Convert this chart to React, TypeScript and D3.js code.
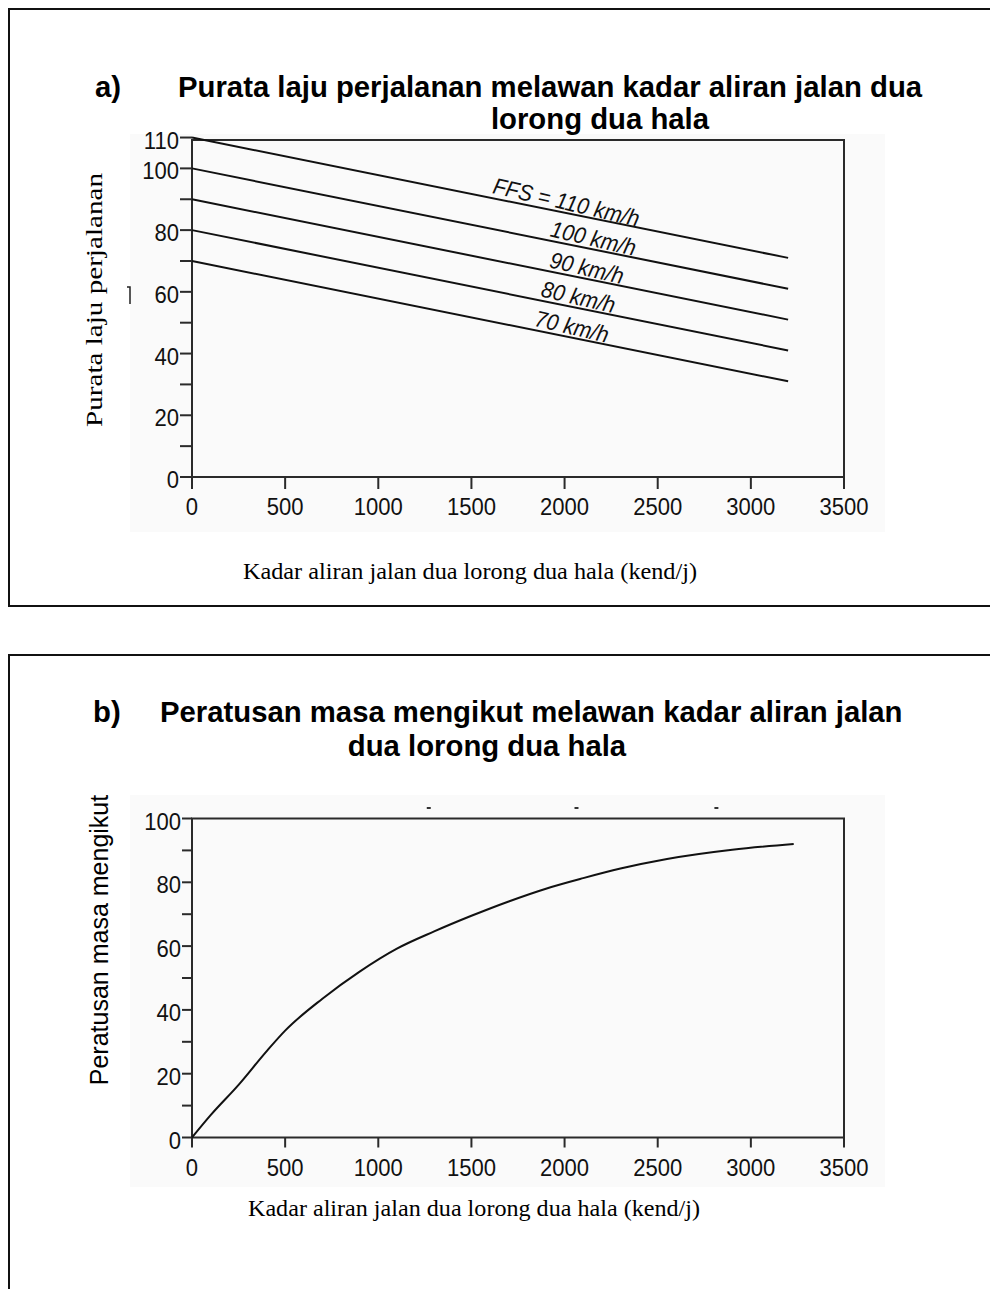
import * as d3 from "d3";
import React from "react";

// values
const flowTicks = [0, 500, 1000, 1500, 2000, 2500, 3000, 3500];

const ffsValues = [110, 100, 90, 80, 70];
const ffsEndSpeeds = [71, 61, 51, 41, 31];
const ffsLabels = ["FFS = 110 km/h", "100 km/h", "90 km/h", "80 km/h", "70 km/h"];
const ffsLabelFlow = [2000, 2145, 2110, 2065, 2030];
const ffsFlowEnd = 3200;

const speedTicks = [0, 10, 20, 30, 40, 50, 60, 70, 80, 90, 100, 110];
const speedLabels = [0, 20, 40, 60, 80, 100, 110];

const followFlow = [0, 100, 250, 400, 500, 700, 900, 1100, 1300, 1500, 1700, 1900, 2100, 2300, 2550, 2900, 3230];
const followPct = [0, 7, 16.5, 27, 33.5, 43.5, 52, 59.2, 64.6, 69.5, 74, 78, 81.3, 84.3, 87.3, 90.2, 92];

const pctTicks = [0, 10, 20, 30, 40, 50, 60, 70, 80, 90, 100];
const pctLabels = [0, 20, 40, 60, 80, 100];

// leftover specks above plot b in the scan
const speckFlow = [1271, 2064, 2815];

const sans = "'Liberation Sans', Arial, sans-serif";
const serif = "'Liberation Serif', 'Times New Roman', serif";
const axisColor = "#2a2a2a";
const titleSize = 29.3;

const Frame = ({ x, y, yTicks, yLabels, tickLen }) => {
  const [x0, x1] = x.range();
  const [y0, y1] = y.range();
  return (
    <g>
      <rect x={x0} y={y1} width={x1 - x0} height={y0 - y1} fill="none" stroke={axisColor} strokeWidth={2} />
      {yTicks.map((t) => (
        <line key={"yt" + t} x1={x0 - tickLen} x2={x0} y1={y(t)} y2={y(t)} stroke={axisColor} strokeWidth={2} />
      ))}
      {yLabels.map((t) => (
        <text
          key={"yl" + t}
          transform={`translate(${x0 - tickLen - 1},${y(t) + 11}) scale(0.92,1)`}
          textAnchor="end"
          fontFamily={sans}
          fontSize={24}
          fill="#111"
        >
          {t}
        </text>
      ))}
      {flowTicks.map((t) => (
        <line key={"xt" + t} x1={x(t)} x2={x(t)} y1={y0} y2={y0 + tickLen} stroke={axisColor} strokeWidth={2} />
      ))}
      {flowTicks.map((t) => (
        <text
          key={"xl" + t}
          transform={`translate(${x(t)},${y0 + 38}) scale(0.92,1)`}
          textAnchor="middle"
          fontFamily={sans}
          fontSize={24}
          fill="#111"
        >
          {t}
        </text>
      ))}
    </g>
  );
};

export default function App() {
  const width = 990;
  const height = 1289;

  // panel a
  const xa = d3.scaleLinear().domain([0, 3500]).range([192, 844]);
  const ya = d3.scaleLinear().domain([0, 109.2]).range([477, 140]);

  // panel b
  const xb = d3.scaleLinear().domain([0, 3500]).range([192, 844]);
  const yb = d3.scaleLinear().domain([0, 100]).range([1137.5, 818.5]);

  const followLine = d3
    .line<number>()
    .x((d, i) => xb(followFlow[i]))
    .y((d) => yb(d))
    .curve(d3.curveMonotoneX);

  return (
    <svg width={width} height={height} style={{ position: "absolute", left: 0, top: 0, display: "block" }}>
      <rect width={width} height={height} fill="#fff" />

      {/* ---------- panel a ---------- */}
      <rect x={130} y={134} width={755} height={398} fill="#fafafa" />
      <rect x={9} y={9} width={1000} height={597} fill="none" stroke="#111" strokeWidth={2} />
      <text x={95} y={97} fontFamily={sans} fontWeight="bold" fontSize={titleSize} fill="#000">a)</text>
      <text x={178} y={97} fontFamily={sans} fontWeight="bold" fontSize={titleSize} fill="#000">
        Purata laju perjalanan melawan kadar aliran jalan dua
      </text>
      <text x={600} y={129} textAnchor="middle" fontFamily={sans} fontWeight="bold" fontSize={titleSize} fill="#000">
        lorong dua hala
      </text>

      <Frame x={xa} y={ya} yTicks={speedTicks} yLabels={speedLabels} tickLen={12} />

      {ffsValues.map((v, i) => (
        <line
          key={"ffs" + v}
          x1={xa(0)}
          y1={ya(v)}
          x2={xa(ffsFlowEnd)}
          y2={ya(ffsEndSpeeds[i])}
          stroke="#111"
          strokeWidth={2}
        />
      ))}
      {ffsValues.map((v, i) => {
        const f = ffsLabelFlow[i];
        const s = v + (ffsEndSpeeds[i] - v) * (f / ffsFlowEnd);
        return (
          <text
            key={"ffsl" + v}
            transform={`translate(${xa(f)},${ya(s) - 3}) rotate(13) scale(0.92,1)`}
            textAnchor="middle"
            fontFamily={sans}
            fontStyle="italic"
            fontSize={23}
            fill="#111"
          >
            {ffsLabels[i]}
          </text>
        );
      })}

      {/* scan fragment left of the axis */}
      <path d="M127,287 L130,287 L130,304" fill="none" stroke="#222" strokeWidth={1.5} />

      <text
        transform="translate(102,300) rotate(-90)"
        textAnchor="middle"
        fontFamily={serif}
        fontSize={23}
        textLength={254}
        lengthAdjust="spacingAndGlyphs"
        fill="#000"
      >
        Purata laju perjalanan
      </text>
      <text
        x={470}
        y={579}
        textAnchor="middle"
        fontFamily={serif}
        fontSize={24}
        textLength={454}
        lengthAdjust="spacingAndGlyphs"
        fill="#000"
      >
        Kadar aliran jalan dua lorong dua hala (kend/j)
      </text>

      {/* ---------- panel b ---------- */}
      <rect x={130} y={795} width={755} height={392} fill="#fafafa" />
      <rect x={9} y={655} width={1000} height={700} fill="none" stroke="#111" strokeWidth={2} />
      <text x={93} y={722} fontFamily={sans} fontWeight="bold" fontSize={titleSize} fill="#000">b)</text>
      <text x={160} y={722} fontFamily={sans} fontWeight="bold" fontSize={titleSize} fill="#000">
        Peratusan masa mengikut melawan kadar aliran jalan
      </text>
      <text x={487} y={756} textAnchor="middle" fontFamily={sans} fontWeight="bold" fontSize={titleSize} fill="#000">
        dua lorong dua hala
      </text>

      {speckFlow.map((f) => (
        <line key={"sp" + f} x1={xb(f) - 2} x2={xb(f) + 2} y1={yb(103.3)} y2={yb(103.3)} stroke="#333" strokeWidth={2} />
      ))}
      <Frame x={xb} y={yb} yTicks={pctTicks} yLabels={pctLabels} tickLen={10} />
      <path d={followLine(followPct) || ""} fill="none" stroke="#111" strokeWidth={2} />

      <text
        transform="translate(108,940) rotate(-90)"
        textAnchor="middle"
        fontFamily={sans}
        fontSize={25}
        fill="#000"
      >
        Peratusan masa mengikut
      </text>
      <text
        x={474}
        y={1216}
        textAnchor="middle"
        fontFamily={serif}
        fontSize={24}
        textLength={452}
        lengthAdjust="spacingAndGlyphs"
        fill="#000"
      >
        Kadar aliran jalan dua lorong dua hala (kend/j)
      </text>
    </svg>
  );
}
